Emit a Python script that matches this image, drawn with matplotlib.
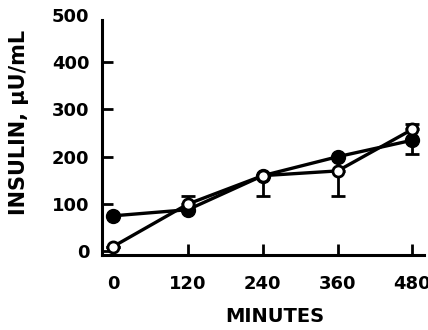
import numpy as np
import matplotlib
matplotlib.use("Agg")
import matplotlib.pyplot as plt

# Data
minutes = [0, 120, 240, 360, 480]
filled_vals = [75, 88, 160, 200, 235]
filled_err_low = [0, 0, 0, 0, 29]
filled_err_high = [0, 0, 0, 0, 0]
open_vals = [10, 100, 160, 170, 258]
open_err_low = [0, 0, 43, 53, 0]
open_err_high = [0, 18, 0, 0, 12]

yticks = [0, 100, 200, 300, 400, 500]
xticks = [0, 120, 240, 360, 480]

plt.rcParams['font.family'] = 'DejaVu Sans'
plt.rcParams['font.weight'] = 'bold'

fig = plt.figure(figsize=(4.28, 3.30), dpi=100)
ax = fig.add_axes([0.238, 0.227, 0.752, 0.728])

ax.errorbar(minutes, filled_vals, yerr=[filled_err_low, filled_err_high],
            color='black', lw=2.4, marker='o', markersize=10,
            markerfacecolor='black', markeredgecolor='black',
            capsize=5, elinewidth=2, capthick=2, zorder=3)
ax.errorbar(minutes, open_vals, yerr=[open_err_low, open_err_high],
            color='black', lw=2.4, marker='o', markersize=8,
            markerfacecolor='white', markeredgecolor='black', markeredgewidth=2,
            capsize=5, elinewidth=2, capthick=2, zorder=4)

ax.set_xlim(-18, 498)
ax.set_ylim(-8, 500)
ax.set_xticks(xticks)
ax.set_yticks(yticks)
ax.tick_params(direction='in', length=8, width=2, labelsize=13)
ax.tick_params(axis='y', pad=9)
ax.tick_params(axis='x', pad=14)
for lab in ax.get_xticklabels() + ax.get_yticklabels():
    lab.set_fontweight('bold')
ax.yaxis.get_major_ticks()[-1].tick1line.set_visible(False)

for s in ['top', 'right']:
    ax.spines[s].set_visible(False)
for s in ['left', 'bottom']:
    ax.spines[s].set_linewidth(2.2)
ax.spines['left'].set_bounds(-8, 489)

ax.set_xlabel('MINUTES', fontsize=14, fontweight='bold')
ax.xaxis.set_label_coords(0.537, -0.215)
ax.set_ylabel('INSULIN, µU/mL', fontsize=15, fontweight='bold')
ax.yaxis.set_label_coords(-0.225, 0.554)

fig.savefig('out.png', dpi=100)
